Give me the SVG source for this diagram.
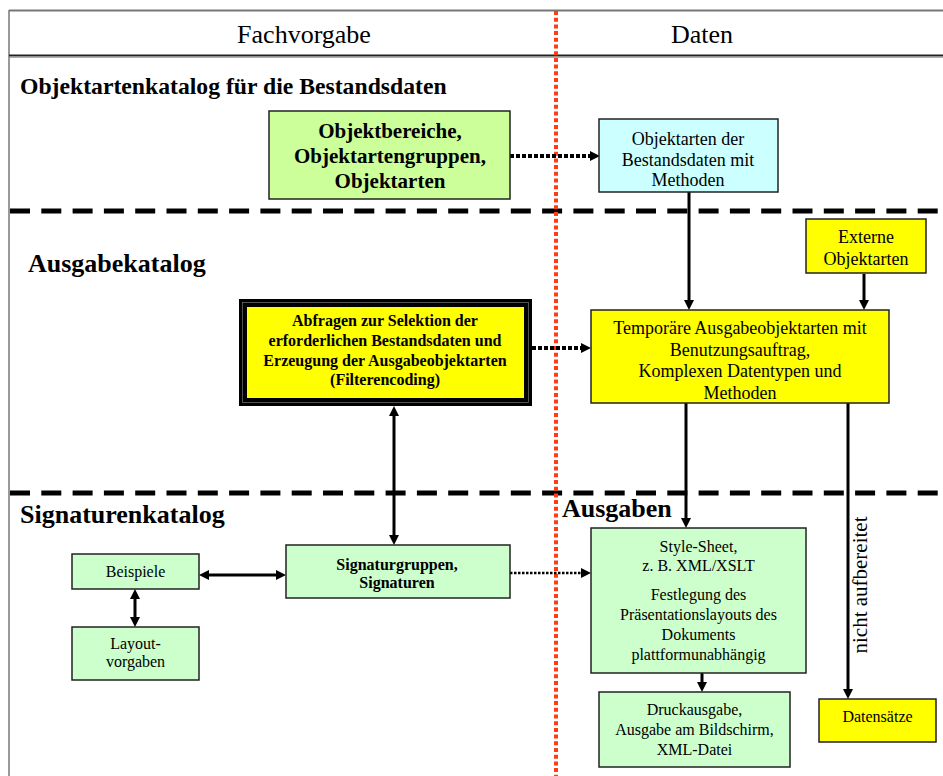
<svg xmlns="http://www.w3.org/2000/svg" width="943" height="776" viewBox="0 0 943 776">
<style>
.t{font-family:"Liberation Serif","Times New Roman",serif;fill:#000;text-anchor:middle}
.h{font-family:"Liberation Serif","Times New Roman",serif;fill:#000;font-weight:bold}
.r18{font-size:18px}
.r16{font-size:16px}
.b16{font-size:16px;font-weight:bold}
.b21{font-size:21px;font-weight:bold}
.box{stroke:#222;stroke-width:1.5}
.conn{stroke:#000;stroke-width:3;fill:none}
.dot{stroke:#000;stroke-width:4;stroke-dasharray:4 2;fill:none}
.dot2{stroke:#000;stroke-width:2.5;stroke-dasharray:2.5 1.5;fill:none}
.sep{stroke:#000;stroke-width:5;stroke-dasharray:20 11.3;fill:none}
</style>
<defs>
<marker id="ah" viewBox="0 0 10 10" markerUnits="userSpaceOnUse" markerWidth="10" markerHeight="10" refX="5" refY="5" orient="auto-start-reverse">
<path d="M0,0 L10,5 L0,10 z" fill="#000"/>
</marker>
</defs>
<rect width="943" height="776" fill="#fff"/>
<g id="frame">
<line x1="9" y1="10.5" x2="943" y2="10.5" stroke="#777" stroke-width="2"/>
<line x1="9" y1="10" x2="9" y2="776" stroke="#777" stroke-width="1.5"/>
<line x1="9" y1="55.5" x2="943" y2="55.5" stroke="#222" stroke-width="2.2"/>
<line x1="9" y1="57.3" x2="943" y2="57.3" stroke="#999" stroke-width="1"/>
<line x1="10" y1="211" x2="943" y2="211" class="sep"/>
<line x1="10" y1="493" x2="943" y2="493" class="sep"/>
<line x1="556" y1="11" x2="556" y2="776" stroke="#ff3c14" stroke-width="4" stroke-dasharray="4 2.7"/>
<text class="t" x="304" y="43" font-size="26">Fachvorgabe</text>
<text class="t" x="702" y="43" font-size="26">Daten</text>
<text class="h" x="20" y="94" font-size="23.7">Objektartenkatalog für die Bestandsdaten</text>
<text class="h" x="28" y="272" font-size="26">Ausgabekatalog</text>
<text class="h" x="20" y="523" font-size="26">Signaturenkatalog</text>
<text class="h" x="562" y="517" font-size="26">Ausgaben</text>
<text class="t" font-size="21" transform="translate(867,585) rotate(-90)">nicht aufbereitet</text>
</g>
<g id="connectors">
<line x1="510" y1="156" x2="595" y2="156" class="dot" marker-end="url(#ah)"/>
<line x1="532" y1="348" x2="586" y2="348" class="dot" marker-end="url(#ah)"/>
<line x1="510" y1="573" x2="586" y2="573" class="dot2" marker-end="url(#ah)"/>
<line x1="689" y1="192" x2="689" y2="305" class="conn" marker-end="url(#ah)"/>
<line x1="864" y1="274" x2="864" y2="305" class="conn" marker-end="url(#ah)"/>
<line x1="686" y1="403" x2="686" y2="523" class="conn" marker-end="url(#ah)"/>
<line x1="848" y1="403" x2="848" y2="694" class="conn" marker-end="url(#ah)"/>
<line x1="702" y1="673" x2="702" y2="687" class="conn" marker-end="url(#ah)"/>
<line x1="394" y1="411" x2="394" y2="540" class="conn" marker-start="url(#ah)" marker-end="url(#ah)"/>
<line x1="204" y1="575" x2="281" y2="575" class="conn" marker-start="url(#ah)" marker-end="url(#ah)"/>
<line x1="135" y1="594" x2="135" y2="622" class="conn" marker-start="url(#ah)" marker-end="url(#ah)"/>
</g>
<g id="objektbereiche">
<rect x="269" y="111" width="241" height="88" fill="#ccff99" class="box"/>
<text class="t b21" x="390" y="138">Objektbereiche,</text>
<text class="t b21" x="390" y="163">Objektartengruppen,</text>
<text class="t b21" x="390" y="188">Objektarten</text>
</g>
<g id="objektarten-bestand">
<rect x="599" y="119" width="179" height="73" fill="#ccffff" class="box"/>
<text class="t r18" x="688" y="145">Objektarten der</text>
<text class="t r18" x="688" y="165.5">Bestandsdaten mit</text>
<text class="t r18" x="688" y="186">Methoden</text>
</g>
<g id="externe">
<rect x="806" y="219" width="120" height="54" fill="#ffff00" class="box"/>
<text class="t r18" x="866" y="243">Externe</text>
<text class="t r18" x="866" y="265">Objektarten</text>
</g>
<g id="abfragen">
<rect x="243" y="303" width="285" height="99" fill="#ffff00" stroke="#000" stroke-width="8"/>
<rect x="242.5" y="302.5" width="286" height="100" fill="none" stroke="#777" stroke-width="0.7"/>
<text class="t b16" x="385" y="326">Abfragen zur Selektion der</text>
<text class="t b16" x="385" y="345.5">erforderlichen Bestandsdaten und</text>
<text class="t b16" x="385" y="365.5">Erzeugung der Ausgabeobjektarten</text>
<text class="t b16" x="385" y="385">(Filterencoding)</text>
</g>
<g id="temporaer">
<rect x="591" y="310" width="298" height="93" fill="#ffff00" class="box"/>
<text class="t r18" x="740" y="334">Temporäre Ausgabeobjektarten mit</text>
<text class="t r18" x="740" y="355.5">Benutzungsauftrag,</text>
<text class="t r18" x="740" y="377">Komplexen Datentypen und</text>
<text class="t r18" x="740" y="399">Methoden</text>
</g>
<g id="beispiele">
<rect x="72" y="554" width="127" height="35" fill="#ccffcc" class="box"/>
<text class="t r16" x="135.5" y="577">Beispiele</text>
</g>
<g id="layoutvorgaben">
<rect x="72" y="627" width="127" height="53" fill="#ccffcc" class="box"/>
<text class="t r16" x="135.5" y="649">Layout-</text>
<text class="t r16" x="135.5" y="667">vorgaben</text>
</g>
<g id="signaturgruppen">
<rect x="286" y="545" width="224" height="53" fill="#ccffcc" class="box"/>
<text class="t b16" x="397" y="570">Signaturgruppen,</text>
<text class="t b16" x="397" y="587.5">Signaturen</text>
</g>
<g id="stylesheet">
<rect x="591" y="528" width="215" height="145" fill="#ccffcc" class="box"/>
<text class="t r16" x="698.5" y="551.5">Style-Sheet,</text>
<text class="t r16" x="698.5" y="571">z. B. XML/XSLT</text>
<text class="t r16" x="698.5" y="600">Festlegung des</text>
<text class="t r16" x="698.5" y="620">Präsentationslayouts des</text>
<text class="t r16" x="698.5" y="640">Dokuments</text>
<text class="t r16" x="698.5" y="660">plattformunabhängig</text>
</g>
<g id="druckausgabe">
<rect x="599" y="692" width="191" height="75" fill="#ccffcc" class="box"/>
<text class="t r16" x="694.5" y="714.5">Druckausgabe,</text>
<text class="t r16" x="694.5" y="735">Ausgabe am Bildschirm,</text>
<text class="t r16" x="694.5" y="755">XML-Datei</text>
</g>
<g id="datensaetze">
<rect x="819" y="699" width="117" height="43" fill="#ffff00" class="box"/>
<text class="t r16" x="877.5" y="722">Datensätze</text>
</g>
</svg>
